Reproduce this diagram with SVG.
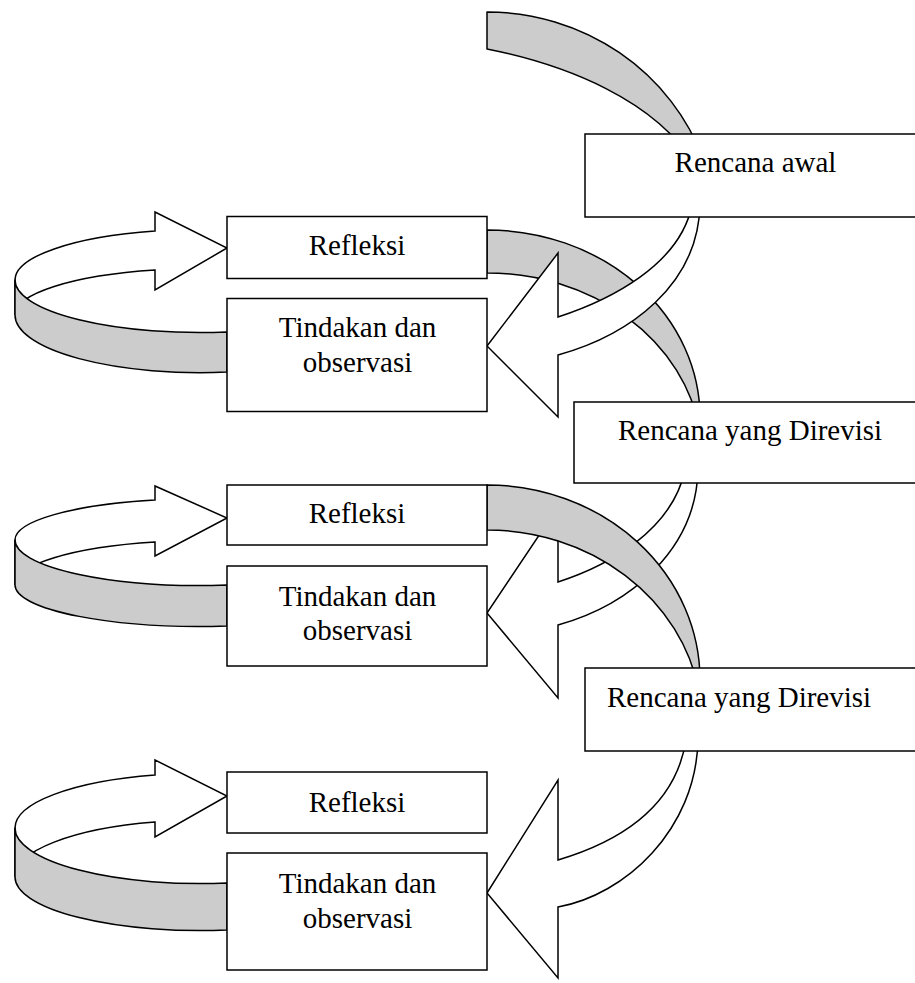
<svg xmlns="http://www.w3.org/2000/svg" width="915" height="983" viewBox="0 0 915 983">
<style>
.box{fill:#fff;stroke:#000;stroke-width:1.5}
.g{fill:#cccccc;stroke:#000;stroke-width:1.5;stroke-linejoin:round}
.w{fill:#fff;stroke:#000;stroke-width:1.5;stroke-linejoin:miter}
text{font-family:"Liberation Serif","Times New Roman",serif;font-size:29px;fill:#000}
</style>
<rect width="915" height="983" fill="#fff"/>
<g id="connectors">
  <!-- left loops -->
  <path class="w" d="M15,280 A185,50.52 0 0 1 155,231 L155,212 L227,248 L155,290 L155,270 A185,46.39 0 0 0 15,315 Z"/>
  <path class="g" d="M15,280 A185,52.56 0 0 0 227,332 L227,372 A185,57.62 0 0 1 15,315 Z"/>
  <path class="w" d="M15,540 A185,41.24 0 0 1 155,500 L155,486 L227,518 L155,556 L155,542 A185,44.33 0 0 0 15,585 Z"/>
  <path class="g" d="M15,540 A185,45.49 0 0 0 227,585 L227,626 A185,41.44 0 0 1 15,585 Z"/>
  <path class="w" d="M15,828 A185,54.64 0 0 1 155,775 L155,760 L227,796 L155,837 L155,822 A185,56.70 0 0 0 15,877 Z"/>
  <path class="g" d="M15,828 A185,55.60 0 0 0 227,883 L227,930 A185,53.57 0 0 1 15,877 Z"/>
  <!-- right side -->
  <path class="g" d="M487,12 A230,223 0 0 1 703.6,160 L695,165 C655,100 567,65 487,49 Z"/>
  <path class="g" d="M487,230 A213,187.5 0 0 1 700,417.5 L699.6,430 A215,184.2 0 0 0 487,273 Z"/>
  <path class="w" d="M700,205 C698,285 630,335 558,355 L558,417 L487,346 L558,253 L558,317 C610,300 680,265 692,205 Z"/>
  <path class="w" d="M698,470 C696,550 630,605 558,625 L558,698 L487,613 L558,507 L558,582 C610,565 672,530 685,470 Z"/>
  <path class="g" d="M487,485 A213,195 0 0 1 700,680 L698.7,690 A215,194 0 0 0 487,530 Z"/>
  <path class="w" d="M698,740 C696,830 625,895 558,907 L558,978 L487,893 L558,780 L558,860 C615,843 675,810 686,740 Z"/>
</g>
<g id="rencana-awal"><rect class="box" x="585" y="134" width="340" height="83"/><text x="755.5" y="172" text-anchor="middle">Rencana awal</text></g>
<g id="refleksi-1"><rect class="box" x="227" y="216.5" width="260" height="62"/><text x="357" y="255" text-anchor="middle">Refleksi</text></g>
<g id="tindakan-1"><rect class="box" x="227" y="298.5" width="260" height="113"/><text x="357.5" y="337" text-anchor="middle">Tindakan dan</text><text x="357.5" y="372" text-anchor="middle">observasi</text></g>
<g id="rencana-revisi-1"><rect class="box" x="574" y="402" width="350" height="81"/><text x="618" y="440">Rencana yang Direvisi</text></g>
<g id="refleksi-2"><rect class="box" x="227" y="485" width="260" height="60"/><text x="357" y="523" text-anchor="middle">Refleksi</text></g>
<g id="tindakan-2"><rect class="box" x="227" y="566" width="260" height="100"/><text x="357.5" y="606" text-anchor="middle">Tindakan dan</text><text x="357.5" y="640" text-anchor="middle">observasi</text></g>
<g id="rencana-revisi-2"><rect class="box" x="585" y="668" width="340" height="83"/><text x="607" y="707">Rencana yang Direvisi</text></g>
<g id="refleksi-3"><rect class="box" x="227" y="772" width="260" height="61"/><text x="357" y="812" text-anchor="middle">Refleksi</text></g>
<g id="tindakan-3"><rect class="box" x="227" y="853" width="260" height="117"/><text x="357.5" y="893" text-anchor="middle">Tindakan dan</text><text x="357.5" y="928" text-anchor="middle">observasi</text></g>
</svg>
